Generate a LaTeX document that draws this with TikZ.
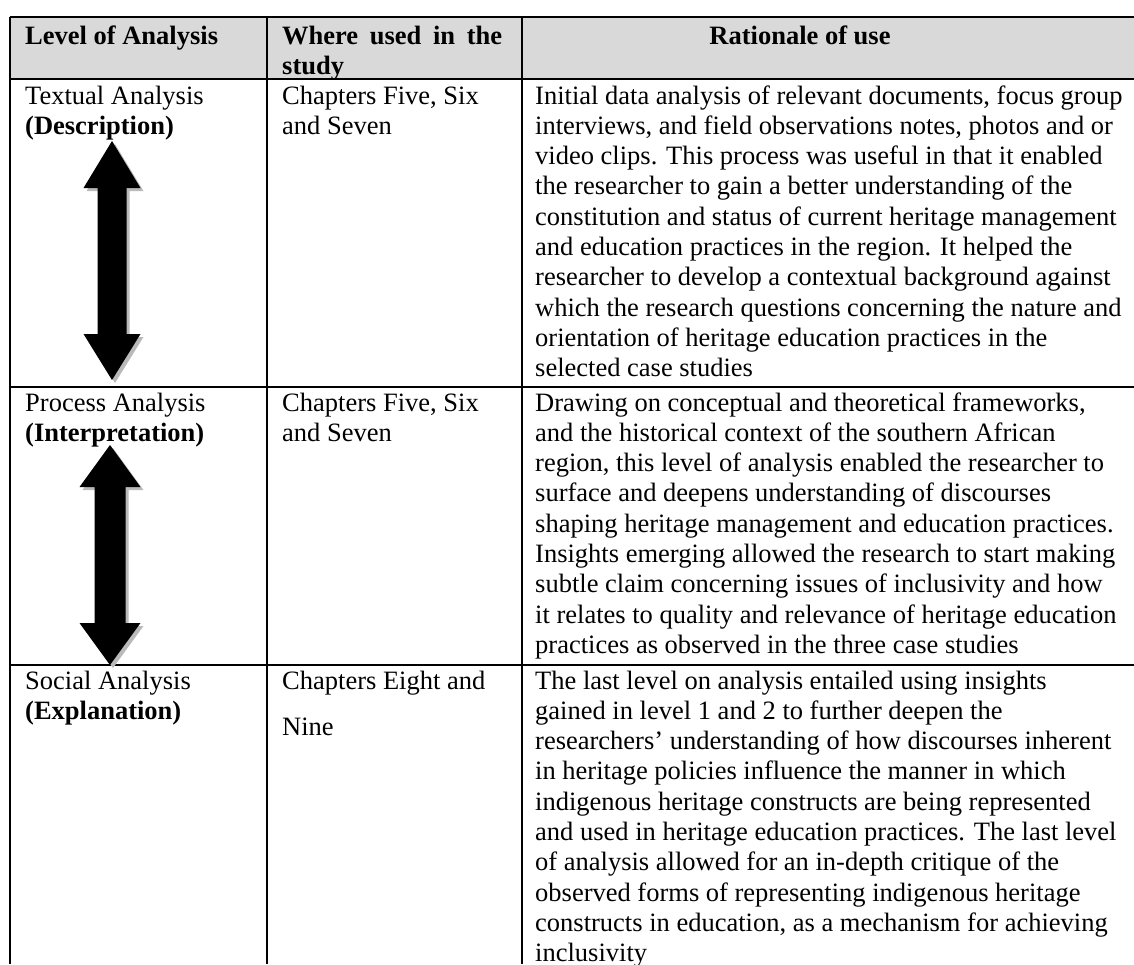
\documentclass[tikz,border=0pt]{standalone}
\usepackage{fontspec}
\setmainfont{Liberation Serif}
\newcommand\rowlines[1]{\begin{tabular}[t]{@{}l@{}}#1\end{tabular}}
\newcommand\ArrowPath[7]{(#1,#2) -- (#1+#6,#3) -- (#1+#7,#3) -- (#1+#7,#4) -- (#1+#6,#4) -- (#1,#5) -- (#1-#6,#4) -- (#1-#7,#4) -- (#1-#7,#3) -- (#1-#6,#3) -- cycle}
\begin{document}
\begin{tikzpicture}[x=1pt,y=-1pt,
  cell/.style={anchor=base west, inner sep=0pt, font=\fontsize{26.5}{30.3}\selectfont},
  hd/.style={cell, font=\fontsize{26.5}{30.3}\selectfont\bfseries},
  rule/.style={line width=1.8pt, black},
  bigarrow/.style={fill=black},
  arrowshadow/.style={fill=black!27}]
\useasboundingbox (0,0) rectangle (1134,964);
% header background
\fill[black!15] (10,17) rectangle (1134,79);
% header texts
\node[hd] (h1) at (25,44) {Level of Analysis};
\node[hd] (h2) at (282,44) {\rowlines{\makebox[220pt][s]{Where used in the}\\study}};
\node[hd, anchor=base] (h3) at (800,44) {Rationale of use};
% column 1
\node[cell] (a1) at (25,104) {\rowlines{Textual Analysis\\\textbf{(Description)}}};
\node[cell] (a2) at (25,411) {\rowlines{Process Analysis\\\textbf{(Interpretation)}}};
\node[cell] (a3) at (25,689) {\rowlines{Social Analysis\\\textbf{(Explanation)}}};
% column 2
\node[cell] (b1) at (282,104) {\rowlines{Chapters Five, Six\\and Seven}};
\node[cell] (b2) at (282,411) {\rowlines{Chapters Five, Six\\and Seven}};
\node[cell] (b3) at (282,689) {Chapters Eight and};
\node[cell] (b3b) at (282,735) {Nine};
% column 3
\node[cell] (c1) at (535,104) {\rowlines{Initial data analysis of relevant documents, focus group\\
interviews, and field observations notes, photos and or\\
video clips. This process was useful in that it enabled\\
the researcher to gain a better understanding of the\\
constitution and status of current heritage management\\
and education practices in the region. It helped the\\
researcher to develop a contextual background against\\
which the research questions concerning the nature and\\
orientation of heritage education practices in the\\
selected case studies}};
\node[cell] (c2) at (535,411) {\rowlines{Drawing on conceptual and theoretical frameworks,\\
and the historical context of the southern African\\
region, this level of analysis enabled the researcher to\\
surface and deepens understanding of discourses\\
shaping heritage management and education practices.\\
Insights emerging allowed the research to start making\\
subtle claim concerning issues of inclusivity and how\\
it relates to quality and relevance of heritage education\\
practices as observed in the three case studies}};
\node[cell] (c3) at (535,689) {\rowlines{The last level on analysis entailed using insights\\
gained in level 1 and 2 to further deepen the\\
researchers’ understanding of how discourses inherent\\
in heritage policies influence the manner in which\\
indigenous heritage constructs are being represented\\
and used in heritage education practices. The last level\\
of analysis allowed for an in-depth critique of the\\
observed forms of representing indigenous heritage\\
constructs in education, as a mechanism for achieving\\
inclusivity}};
% rules
\draw[rule] (10,17) -- (1134,17);
\draw[rule] (10,79) -- (1134,79);
\draw[rule] (10,387) -- (1134,387);
\draw[rule] (10,665) -- (1134,665);
\draw[rule] (10,17) -- (10,964);
\draw[rule] (267,17) -- (267,964);
\draw[rule] (522,17) -- (522,964);
% arrows
\fill[arrowshadow, shift={(3,3)}] \ArrowPath{112}{141}{188}{334}{380}{28.5}{14.5};
\fill[bigarrow] \ArrowPath{112}{141}{188}{334}{380}{28.5}{14.5};
\fill[arrowshadow, shift={(3,3)}] \ArrowPath{110}{445}{487}{623}{665}{30.5}{15.5};
\fill[bigarrow] \ArrowPath{110}{445}{487}{623}{665}{30.5}{15.5};
\end{tikzpicture}
\end{document}
